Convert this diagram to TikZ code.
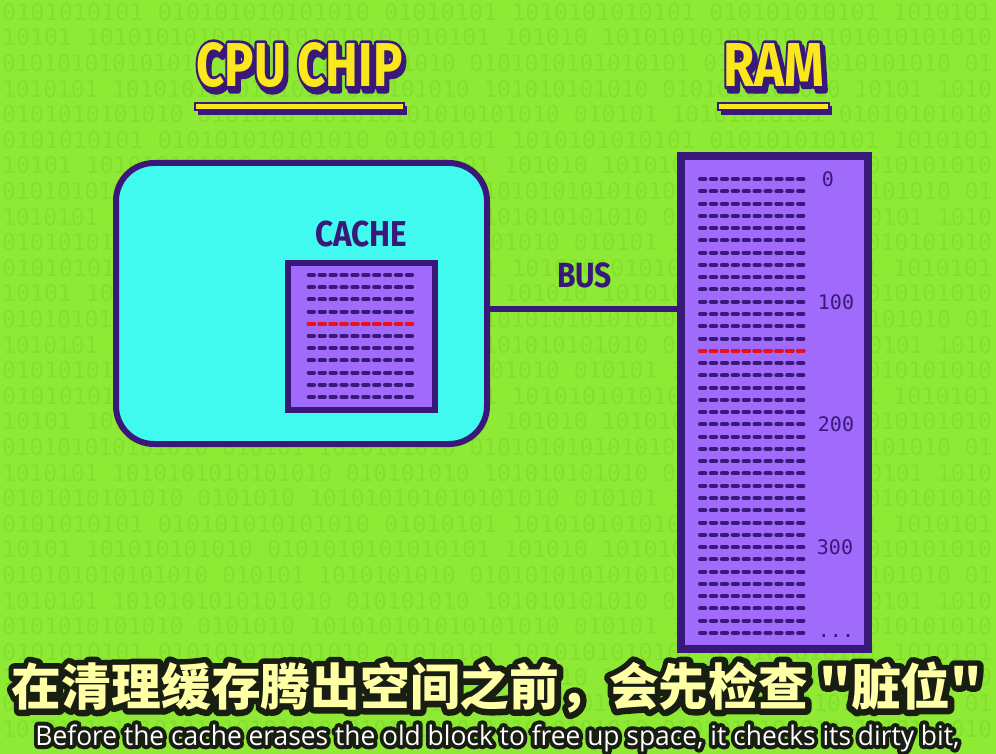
\documentclass[tikz,border=0pt]{standalone}
\usepackage{fontspec}
\usepackage{graphicx}
\newfontfamily\titlefont{Fira Sans}
\newfontfamily\titleol{Fira Sans}[FakeBold=10]
\newfontfamily\monofont{DejaVu Sans Mono}
\newfontfamily\cjkfont{Noto Sans CJK SC}
\newfontfamily\cjkol{Noto Sans CJK SC}[FakeBold=24]
\newfontfamily\subfont{Open Sans}
\newfontfamily\subol{Open Sans}[FakeBold=30]
\definecolor{bggreen}{RGB}{142,234,52}
\definecolor{bindig}{RGB}{132,224,45}
\definecolor{dpurple}{RGB}{58,24,122}
\definecolor{lav}{RGB}{160,106,250}
\definecolor{cyanfill}{RGB}{64,250,240}
\definecolor{tyellow}{RGB}{250,232,28}
\definecolor{dashred}{RGB}{240,16,16}
\definecolor{subyellow}{RGB}{255,255,165}
\definecolor{subdark}{RGB}{25,30,18}
\def\binA{0101010101 010101010101010 01010101 1010101010101 010101010101 1010101}
\def\binB{10101 101010101010 0101010101010101 101010 10101010101010 0101010101010}
\def\binC{010101010101010 010101 1010101010 0101010101010101 01010 101010101010 01}
\def\binD{1010101 1010101010101010 010101010 101010101010 0101010101010 10101 1010}
\def\binE{0101010101010 0101010 101010101010101010 010101 10101010101 01010101010}
\newcommand\roundjoin{\special{pdf:literal direct 1 j 1 J}}
\newcommand\ttl[4]{\resizebox{#1}{\height}{\roundjoin#3\bfseries\fontsize{62}{62}\selectfont\textcolor{#2}{#4}}}
\newcommand\cntext{在清理缓存腾出空间之前，会先检查 "脏位"}
\newcommand\entext{Before the cache erases the old block to free up space, it checks its dirty bit,}
\tikzset{
  bin/.style={text=bindig, inner sep=0pt, font=\monofont\fontsize{23}{23}\selectfont},
  boxline/.style={draw=dpurple, line width=6pt, inner sep=0pt},
  dashrow/.style={draw=dpurple, line width=4pt, line cap=round, dash pattern=on 5.3pt off 5.6pt},
  redrow/.style={dashrow, draw=dashred},
  lbl/.style={text=dpurple, inner sep=0pt},
  num/.style={text=dpurple, inner sep=0pt, font=\monofont\fontsize{20}{20}\selectfont},
  busline/.style={draw=dpurple, line width=6pt},
  plain/.style={inner sep=0pt}
}
\begin{document}
\begin{tikzpicture}[x=1pt,y=-1pt]
\useasboundingbox (0,0) rectangle (996,754);
\fill[bggreen] (0,0) rectangle (996,754);
% faint binary background
\foreach \k in {0,...,28} {
  \pgfmathsetmacro\yy{12+25.6*\k}
  \pgfmathtruncatemacro\m{mod(\k,5)}
  \node[bin, anchor=west] (bin\k) at (2,\yy) {\resizebox{990pt}{\height}{\ifcase\m\relax \binA\or\binB\or\binC\or\binD\or\binE\fi}};
}
% titles
\node[plain] (cpuS) at (302,69) {\ttl{206pt}{dpurple}{\titleol}{CPU CHIP}};
\node[plain] (cpuO) at (299.5,65) {\ttl{206pt}{dpurple}{\titleol}{CPU CHIP}};
\node[plain] (cpuT) at (299.5,65) {\ttl{206pt}{tyellow}{\titlefont}{CPU CHIP}};
\node[plain] (ramS) at (776.5,69) {\ttl{101pt}{dpurple}{\titleol}{RAM}};
\node[plain] (ramO) at (774,65) {\ttl{101pt}{dpurple}{\titleol}{RAM}};
\node[plain] (ramT) at (774,65) {\ttl{101pt}{tyellow}{\titlefont}{RAM}};
\fill[dpurple] (198,106) rectangle (407,115);
\draw[dpurple, fill=tyellow, line width=1.2pt] (195,103) rectangle (404,110);
\fill[dpurple] (721,106) rectangle (832,115);
\draw[dpurple, fill=tyellow, line width=1.2pt] (718,103) rectangle (829,110);
% CPU chip
\node[boxline, fill=cyanfill, rounded corners=38pt, minimum width=371pt, minimum height=281pt] (cpu) at (301.5,303.5) {};
\node[boxline, fill=lav, minimum width=147pt, minimum height=147pt] (cache) at (361.5,336.5) {};
\node[lbl] (cachelbl) at (361,234.5) {\resizebox{92pt}{\height}{\titlefont\bfseries\fontsize{36}{36}\selectfont CACHE}};
\foreach \i in {0,...,10} {
  \pgfmathsetmacro\yy{275+12.2*\i}
  \draw[dashrow] (308.7,\yy) -- (412.1,\yy);
}
\draw[redrow] (308.7,323.8) -- (412.1,323.8);
% RAM
\node[boxline, line width=8pt, fill=lav, minimum width=187pt, minimum height=493pt] (ram) at (774.5,402.5) {};
\foreach \i in {0,...,37} {
  \pgfmathsetmacro\yy{179+12.27*\i}
  \draw[dashrow] (700,\yy) -- (803.4,\yy);
}
\draw[redrow] (700,350.8) -- (803.4,350.8);
\node[num] (n0) at (828,179) {0};
\node[num] (n100) at (836,302) {100};
\node[num] (n200) at (836,424.5) {200};
\node[num] (n300) at (835,547) {300};
\node[num, anchor=base] (ndots) at (836,637) {...};
% bus
\coordinate (busy) at (0,309);
\draw[busline] (cpu.east |- busy) -- (ram.west |- busy);
\node[lbl] (buslbl) at (584.5,275) {\resizebox{55pt}{\height}{\titlefont\bfseries\fontsize{35}{35}\selectfont BUS}};
% subtitles
\node[plain] (subcnO) at (497,687.5) {\resizebox{970pt}{\height}{\roundjoin\cjkol\bfseries\fontsize{50}{50}\selectfont\textcolor{subdark}{\cntext}}};
\node[plain] (subcn) at (497,687.5) {\resizebox{970pt}{\height}{\cjkfont\bfseries\fontsize{50}{50}\selectfont\textcolor{subyellow}{\cntext}}};
\node[plain, anchor=base] (subenO) at (497.5,745) {\resizebox{924pt}{\height}{\roundjoin\subol\fontsize{27}{27}\selectfont\textcolor{subdark}{\entext}}};
\node[plain, anchor=base] (suben) at (497.5,745) {\resizebox{924pt}{\height}{\subfont\fontsize{27}{27}\selectfont\textcolor{white}{\entext}}};
\end{tikzpicture}
\end{document}
